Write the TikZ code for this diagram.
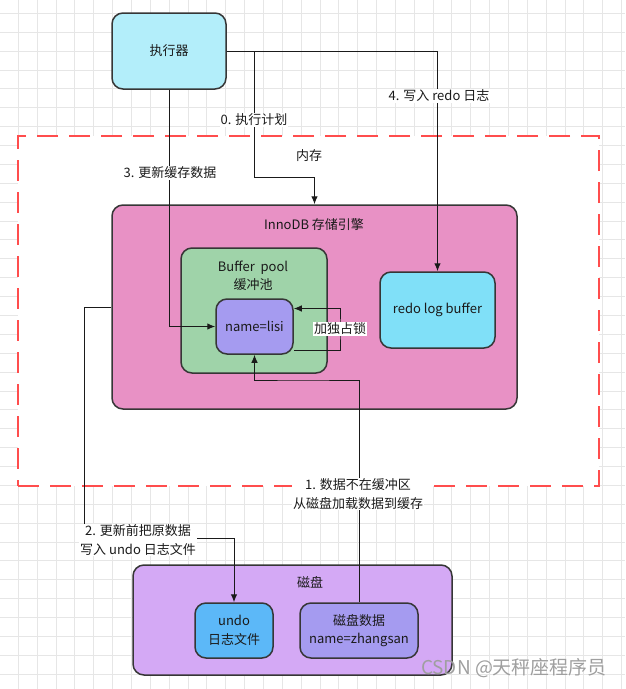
\documentclass[tikz,border=0pt]{standalone}
\usepackage{fontspec}
\setmainfont{Noto Sans CJK SC}
\usepackage{tikz}
\usetikzlibrary{arrows.meta}

\definecolor{txt}{HTML}{1A1A1A}
\definecolor{boxline}{HTML}{363636}
\definecolor{gridcol}{HTML}{E6E6E6}
\definecolor{memred}{HTML}{FF4D4D}
\definecolor{execfill}{HTML}{B3EEFA}
\definecolor{innofill}{HTML}{E891C5}
\definecolor{poolfill}{HTML}{9FD3A9}
\definecolor{rowfill}{HTML}{A59BF0}
\definecolor{redofill}{HTML}{80E0F8}
\definecolor{diskfill}{HTML}{D4A9F5}
\definecolor{undofill}{HTML}{5CB8F8}

\newcommand{\diagfont}{\fontsize{13}{18.5}\selectfont}

\tikzset{
  gridline/.style={draw=gridcol, line width=0.8pt},
  memarea/.style={draw=memred, fill=white, line width=2pt, dash pattern=on 21pt off 11pt},
  box/.style={draw=boxline, line width=1.5pt, rounded corners=11pt, align=center},
  flow/.style={draw=txt, line width=1pt, -{Latex[length=8pt,width=6.5pt]}},
  tag/.style={fill=white, inner sep=1pt, align=center},
}

\begin{document}
\begin{tikzpicture}[x=1pt, y=-1pt, every node/.style={font=\diagfont, text=txt}]
    \fill[white] (0,0) rectangle (625,689);
    \useasboundingbox (0,0) rectangle (625,689);
    % background grid
    \foreach \i in {-1,...,32}
      \draw[gridline] ({18.3+18.85*\i},0) -- ({18.3+18.85*\i},689);
    \foreach \j in {-1,...,36}
      \draw[gridline] (0,{13.3+18.88*\j}) -- (625,{13.3+18.88*\j});

    % memory area
    \node[memarea, minimum width=581pt, minimum height=350pt] (mem) at (308.5,311) {};
    \node (memtitle) at (309,156) {内存};

    % boxes
    \node[box, fill=execfill, minimum width=114pt, minimum height=76pt] (exec) at (169,51) {执行器};
    \node[box, fill=innofill, minimum width=405pt, minimum height=204pt] (innodb) at (314.5,307) {};
    \node (innotitle) at (314,225) {InnoDB 存储引擎};
    \node[box, fill=poolfill, minimum width=146pt, minimum height=125pt] (pool) at (254,310.5) {};
    \node[align=center] (pooltitle) at (253,276) {Buffer\ \ pool\\缓冲池};
    \node[box, fill=rowfill, minimum width=77pt, minimum height=55pt] (lisi) at (254.5,326.5) {name=lisi};
    \node[box, fill=redofill, minimum width=115pt, minimum height=76pt] (redo) at (437.5,310) {redo log buffer};
    \node[box, fill=diskfill, minimum width=319pt, minimum height=110pt] (disk) at (292.5,620) {};
    \node (disktitle) at (310,582) {磁盘};
    \node[box, fill=undofill, minimum width=78pt, minimum height=55pt] (undo) at (234,630.5) {undo\\日志文件};
    \node[box, fill=rowfill, minimum width=118pt, minimum height=55pt] (dd) at (359,630.5) {磁盘数据\\name=zhangsan};

    % bend points
    \coordinate (b0) at (254,177);
    \coordinate (b1) at (300,380);
    \coordinate (b2) at (84,538);
    \coordinate (lk) at (340,329);

    % connectors
    \draw[flow] (exec.east) -| (b0) -| (innodb.north);
    \draw[flow] (exec.east) -| (redo.north);
    \draw[flow] (exec.south) |- (lisi.west);
    \draw[flow] (dd.north) |- (b1) -| (lisi.south);
    \draw[flow] (innodb.west) -| (b2) -| (undo.north);
    \draw[flow] ([yshift=-24pt]lisi.east) -| (lk) |- ([yshift=18pt]lisi.east);

    % connector labels
    \node[tag] (t0) at (254,120) {0. 执行计划};
    \node[tag] (t1) at (358,494) {1. 数据不在缓冲区\\从磁盘加载数据到缓存};
    \node[tag] (t2) at (138,540) {2. 更新前把原数据\\写入 undo 日志文件};
    \node[tag] (t3) at (170,173) {3. 更新缓存数据};
    \node[tag] (t4) at (439,96) {4. 写入 redo 日志};
    \node[tag] (tlock) at (340,329) {加独占锁};

    \node[text=gray!75, font=\fontsize{19}{21}\selectfont] (mark) at (514,668) {CSDN @天秤座程序员};
\end{tikzpicture}
\end{document}
